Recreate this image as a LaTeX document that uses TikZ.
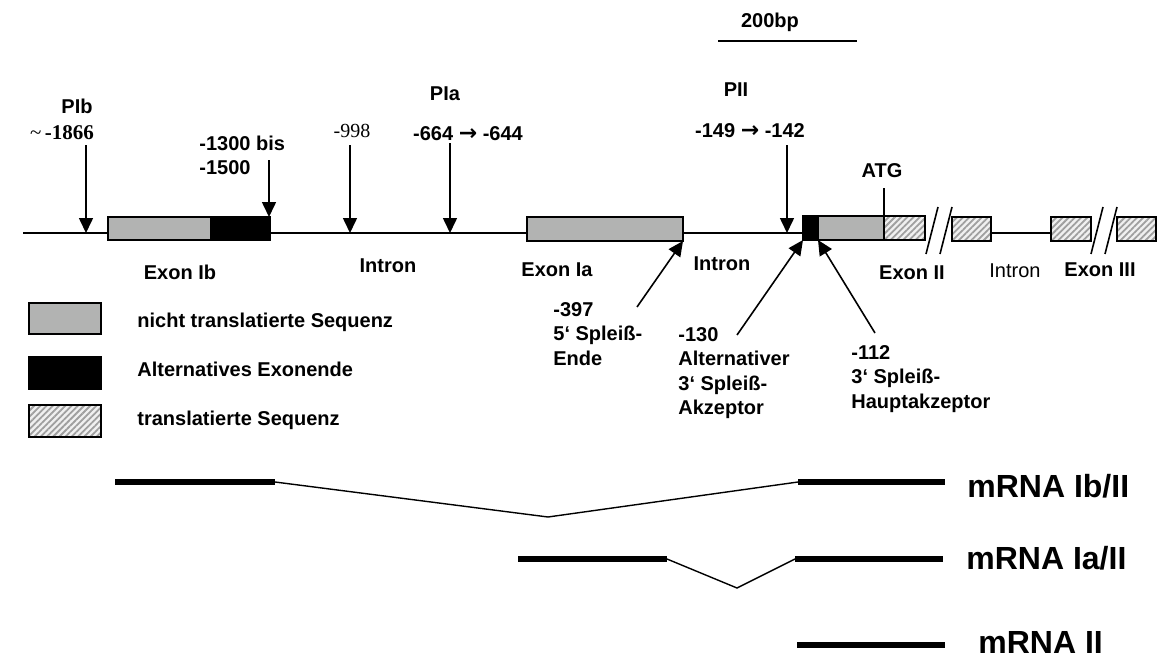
\documentclass[tikz,border=0pt]{standalone}
\usepackage{fontspec}
\setmainfont{Liberation Sans}
\newfontfamily\serifnum{Liberation Serif}
\newfontfamily\arrowfont{DejaVu Sans}
\usetikzlibrary{arrows.meta,patterns.meta}
\definecolor{utrgray}{RGB}{178,179,178}
\begin{document}
\begin{tikzpicture}[x=0.5pt,y=-0.5pt,
  lbl/.style={font=\fontsize{10}{12.2}\selectfont\bfseries, inner sep=0pt, align=left},
  thinlbl/.style={font=\fontsize{10}{12.2}\selectfont, inner sep=0pt},
  mlbl/.style={font=\fontsize{16}{19}\selectfont\bfseries, inner sep=0pt, anchor=west},
  seg/.style={draw=black, line width=0.9pt, inner sep=0pt, outer sep=0pt, anchor=north west},
  utrbox/.style={seg, fill=utrgray},
  altbox/.style={seg, fill=black},
  cdsbox/.style={seg, preaction={fill=gray!12}, pattern={Lines[angle=45,distance=2.2pt,line width=0.9pt]}, pattern color=gray!75},
  arr/.style={-{Triangle[length=7.5pt,width=7pt]}, line width=0.8pt},
  gline/.style={line width=0.8pt},
  thick mrna/.style={line width=2.6pt},
  thin mrna/.style={line width=0.7pt},
]
\useasboundingbox (0,0) rectangle (1158,664);

% scale bar
\coordinate (sbl) at (718,41);
\coordinate (sbr) at (857,41);
\draw[line width=1pt] (sbl) -- (sbr);
\node[lbl] (sb) at (770,22) {200bp};

% gene line and boxes
\coordinate (lstart) at (23,233);
\node[utrbox, minimum width=51.5pt, minimum height=11.5pt] (exIbg) at (108,217) {};
\node[altbox, minimum width=29.5pt, minimum height=11.5pt] (exIbb) at (211,217) {};
\node[utrbox, minimum width=78pt, minimum height=12pt] (exIa) at (527,217) {};
\node[altbox, minimum width=7.5pt, minimum height=12pt] (exIIb) at (803,216) {};
\node[utrbox, minimum width=33pt, minimum height=12pt] (exIIg) at (818,216) {};
\node[cdsbox, minimum width=20.5pt, minimum height=12pt] (exIIh) at (884,216) {};
\node[cdsbox, minimum width=19.5pt, minimum height=12pt] (exIIh2) at (952,217) {};
\node[cdsbox, minimum width=20pt, minimum height=12pt] (exIIIa) at (1051,217) {};
\node[cdsbox, minimum width=19.5pt, minimum height=12pt] (exIIIb) at (1117,217) {};

\draw[gline] (lstart) -- (exIbg.west |- lstart);
\draw[gline] (exIbb.east |- lstart) -- (exIa.west |- lstart);
\draw[gline] (exIa.east |- lstart) -- (exIIb.west |- lstart);
\draw[gline] (exIIh2.east |- lstart) -- (exIIIa.west |- lstart);

% break marks
\coordinate (b1a) at (926,254); \coordinate (b1b) at (938,207);
\coordinate (b2a) at (940,254); \coordinate (b2b) at (952,207);
\coordinate (b3a) at (1091,254); \coordinate (b3b) at (1103,207);
\coordinate (b4a) at (1105,254); \coordinate (b4b) at (1117,207);
\draw[gline] (b1a) -- (b1b);
\draw[gline] (b2a) -- (b2b);
\draw[gline] (b3a) -- (b3b);
\draw[gline] (b4a) -- (b4b);

% promoter / position labels and arrows
\node[lbl] (pib) at (77,106) {PIb};
\node[lbl, font=\fontsize{10.5}{12.2}\selectfont] (pibpos) at (62,133) {{\serifnum\textasciitilde}\,{\serifnum\bfseries -1866}};
\coordinate (pibt) at (86,145); \coordinate (pibh) at (86,233);
\draw[arr] (pibt) -- (pibh);

\node[lbl, anchor=west] (p1300a) at (199,143) {-1300 bis};
\node[lbl, anchor=west] (p1300b) at (199,168) {-1500};
\coordinate (p1300t) at (269,160);
\draw[arr] (p1300t) -- (p1300t |- exIbb.north);

\node[thinlbl, font=\serifnum\fontsize{10}{12}\selectfont] (p998) at (352,131) {-998};
\coordinate (p998t) at (350,145); \coordinate (p998h) at (350,233);
\draw[arr] (p998t) -- (p998h);

\node[lbl] (pia) at (445,94) {PIa};
\node[lbl] (piapos) at (468,134) {-664 {\arrowfont\bfseries\fontsize{11}{12}\selectfont →} -644};
\coordinate (piat) at (450,143); \coordinate (piah) at (450,233);
\draw[arr] (piat) -- (piah);

\node[lbl] (pii) at (736,90) {PII};
\node[lbl] (piipos) at (750,131) {-149 {\arrowfont\bfseries\fontsize{11}{12}\selectfont →} -142};
\coordinate (piit) at (787,145); \coordinate (piih) at (787,233);
\draw[arr] (piit) -- (piih);

\node[lbl] (atg) at (882,171) {ATG};
\coordinate (atgt) at (884,188);
\draw[gline] (atgt) -- (exIIh.north west);

% region labels
\node[lbl] (lexib) at (180,272) {Exon Ib};
\node[lbl] (lint1) at (388,266) {Intron};
\node[lbl] (lexia) at (557,270) {Exon Ia};
\node[lbl] (lint2) at (722,264) {Intron};
\node[lbl] (lexii) at (912,273) {Exon II};
\node[thinlbl] (lint3) at (1015,271) {Intron};
\node[lbl] (lexiii) at (1100,270) {Exon III};

% splice site labels and arrows
\node[lbl, anchor=north west] (s397) at (553,302) {-397\\5‘ Spleiß-\\Ende};
\coordinate (s397t) at (637,307);
\draw[arr] (s397t) -- (exIa.south east);

\node[lbl, anchor=north west] (s130) at (678,327) {-130\\Alternativer\\3‘ Spleiß-\\Akzeptor};
\coordinate (s130t) at (737,335);
\draw[arr] (s130t) -- (exIIb.south west);

\node[lbl, anchor=north west] (s112) at (851,345) {-112\\3‘ Spleiß-\\Hauptakzeptor};
\coordinate (s112t) at (875,333);
\draw[arr] (s112t) -- (exIIg.south west);

% legend
\node[utrbox, minimum width=36pt, minimum height=15.5pt] (lg1) at (29,303) {};
\node[altbox, minimum width=36pt, minimum height=16pt] (lg2) at (29,357) {};
\node[cdsbox, minimum width=36pt, minimum height=16pt] (lg3) at (29,405) {};
\node[lbl, anchor=west] (lt1) at (137,322) {nicht translatierte Sequenz};
\node[lbl, anchor=west] (lt2) at (137,369) {Alternatives Exonende};
\node[lbl, anchor=west] (lt3) at (137,420) {translatierte Sequenz};

% mRNA Ib/II
\coordinate (m1a) at (115,482); \coordinate (m1b) at (275,482);
\coordinate (m1v) at (548,517);
\coordinate (m1c) at (798,482); \coordinate (m1d) at (945,482);
\draw[thick mrna] (m1a) -- (m1b);
\draw[thin mrna] (m1b) -- (m1v) -- (m1c);
\draw[thick mrna] (m1c) -- (m1d);
\node[mlbl] (ml1) at (967,486) {mRNA Ib/II};

% mRNA Ia/II
\coordinate (m2a) at (518,559); \coordinate (m2b) at (667,559);
\coordinate (m2v) at (737,588);
\coordinate (m2c) at (795,559); \coordinate (m2d) at (943,559);
\draw[thick mrna] (m2a) -- (m2b);
\draw[thin mrna] (m2b) -- (m2v) -- (m2c);
\draw[thick mrna] (m2c) -- (m2d);
\node[mlbl] (ml2) at (966,558) {mRNA Ia/II};

% mRNA II
\coordinate (m3a) at (797,645); \coordinate (m3b) at (945,645);
\draw[thick mrna] (m3a) -- (m3b);
\node[mlbl] (ml3) at (978,642) {mRNA II};
\end{tikzpicture}
\end{document}
